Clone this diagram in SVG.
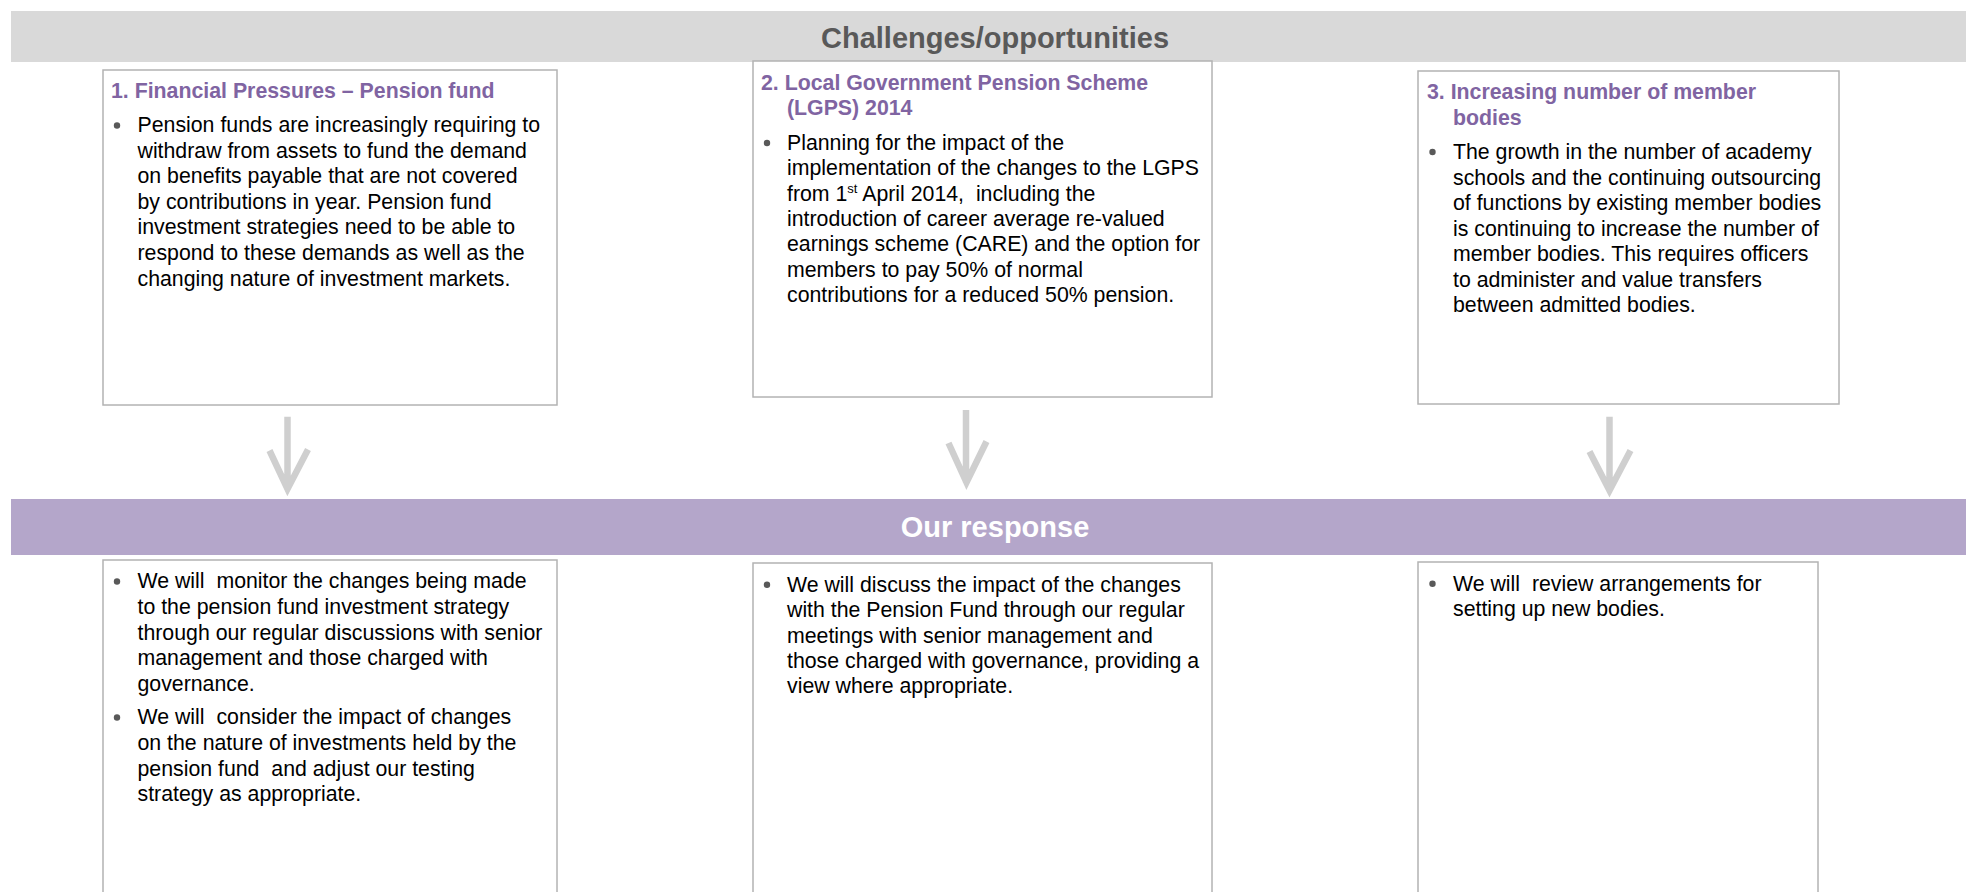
<svg xmlns="http://www.w3.org/2000/svg" width="1966" height="892" viewBox="0 0 1966 892">
<style>
.band-grey{fill:#d9d9d9}
.band-purple{fill:#b4a6ca}
.box{fill:#ffffff;stroke:#b3b3b3;stroke-width:1.5}
.h{font-family:"Liberation Sans",Arial,sans-serif;font-weight:bold;font-size:29px;text-anchor:middle}
.h1{fill:#595959}
.h2{fill:#ffffff}
.t{font-family:"Liberation Sans",Arial,sans-serif;font-weight:bold;font-size:21.3px;fill:#8064a2}
.b{font-family:"Liberation Sans",Arial,sans-serif;font-size:21.3px;fill:#000000}
.dot{fill:#595959}
.arr{fill:none;stroke:#cfcfcf;stroke-width:6.5;stroke-linecap:butt;stroke-linejoin:miter}
</style>
<rect width="1966" height="892" fill="#ffffff"/>

<g id="header-challenges">
<rect class="band-grey" x="11" y="11" width="1955" height="51"/>
<text class="h h1" x="995" y="48">Challenges/opportunities</text>
</g>

<g id="box-1">
<rect class="box" x="103" y="70" width="454" height="335"/>
<text class="t" x="111" y="98">1. Financial Pressures – Pension fund</text>
<circle class="dot" cx="117" cy="125.5" r="3.2"/>
<text class="b" x="137.5" y="132">Pension funds are increasingly requiring to</text>
<text class="b" x="137.5" y="157.6">withdraw from assets to fund the demand</text>
<text class="b" x="137.5" y="183.2">on benefits payable that are not covered</text>
<text class="b" x="137.5" y="208.8">by contributions in year. Pension fund</text>
<text class="b" x="137.5" y="234.4">investment strategies need to be able to</text>
<text class="b" x="137.5" y="260">respond to these demands as well as the</text>
<text class="b" x="137.5" y="285.6">changing nature of investment markets.</text>
</g>

<g id="box-2">
<rect class="box" x="753" y="61" width="459" height="336"/>
<text class="t" x="761" y="90">2. Local Government Pension Scheme</text>
<text class="t" x="787" y="115.3">(LGPS) 2014</text>
<circle class="dot" cx="767" cy="143" r="3.2"/>
<text class="b" x="787" y="150">Planning for the impact of the</text>
<text class="b" x="787" y="175.3">implementation of the changes to the LGPS</text>
<text class="b" x="787" y="200.6" xml:space="preserve">from 1<tspan font-size="13" dy="-8">st</tspan><tspan dy="8"> April 2014,  including the</tspan></text>
<text class="b" x="787" y="225.9">introduction of career average re-valued</text>
<text class="b" x="787" y="251.2">earnings scheme (CARE) and the option for</text>
<text class="b" x="787" y="276.5">members to pay 50% of normal</text>
<text class="b" x="787" y="301.8">contributions for a reduced 50% pension.</text>
</g>

<g id="box-3">
<rect class="box" x="1418" y="71" width="421" height="333"/>
<text class="t" x="1427" y="99.3">3. Increasing number of member</text>
<text class="t" x="1453" y="125">bodies</text>
<circle class="dot" cx="1432.5" cy="152" r="3.2"/>
<text class="b" x="1453" y="159.4">The growth in the number of academy</text>
<text class="b" x="1453" y="184.9">schools and the continuing outsourcing</text>
<text class="b" x="1453" y="210.4">of functions by existing member bodies</text>
<text class="b" x="1453" y="235.9">is continuing to increase the number of</text>
<text class="b" x="1453" y="261.4">member bodies. This requires officers</text>
<text class="b" x="1453" y="286.9">to administer and value transfers</text>
<text class="b" x="1453" y="312.4">between admitted bodies.</text>
</g>

<g id="header-response">
<rect class="band-purple" x="11" y="499" width="1955" height="56"/>
<text class="h h2" x="995" y="537">Our response</text>
</g>

<g id="box-4">
<rect class="box" x="103" y="560" width="454" height="340"/>
<circle class="dot" cx="117" cy="581.5" r="3.2"/>
<text class="b" x="137.5" y="588.3" xml:space="preserve">We will  monitor the changes being made</text>
<text class="b" x="137.5" y="613.9">to the pension fund investment strategy</text>
<text class="b" x="137.5" y="639.5">through our regular discussions with senior</text>
<text class="b" x="137.5" y="665.1">management and those charged with</text>
<text class="b" x="137.5" y="690.7">governance.</text>
<circle class="dot" cx="117" cy="717.5" r="3.2"/>
<text class="b" x="137.5" y="724.3" xml:space="preserve">We will  consider the impact of changes</text>
<text class="b" x="137.5" y="749.9">on the nature of investments held by the</text>
<text class="b" x="137.5" y="775.5" xml:space="preserve">pension fund  and adjust our testing</text>
<text class="b" x="137.5" y="801.1">strategy as appropriate.</text>
</g>

<g id="box-5">
<rect class="box" x="753" y="563" width="459" height="340"/>
<circle class="dot" cx="767" cy="584.7" r="3.2"/>
<text class="b" x="787" y="591.7">We will discuss the impact of the changes</text>
<text class="b" x="787" y="617.1">with the Pension Fund through our regular</text>
<text class="b" x="787" y="642.5">meetings with senior management and</text>
<text class="b" x="787" y="667.9">those charged with governance, providing a</text>
<text class="b" x="787" y="693.3">view where appropriate.</text>
</g>

<g id="box-6">
<rect class="box" x="1418" y="562" width="400" height="340"/>
<circle class="dot" cx="1432.5" cy="583.7" r="3.2"/>
<text class="b" x="1453" y="590.7" xml:space="preserve">We will  review arrangements for</text>
<text class="b" x="1453" y="616.2">setting up new bodies.</text>
</g>

<g id="connectors">
<path class="arr" d="M287.5 416.7 V489 M269.5 450.5 L287.5 489 L308 449.5"/>
<path class="arr" d="M966 410 V482.5 M948.5 443 L966.5 482.5 L986.5 441.5"/>
<path class="arr" d="M1609.5 416.7 V490.5 M1589.5 451.5 L1609.5 490.5 L1630.5 450.5"/>
</g>
</svg>
